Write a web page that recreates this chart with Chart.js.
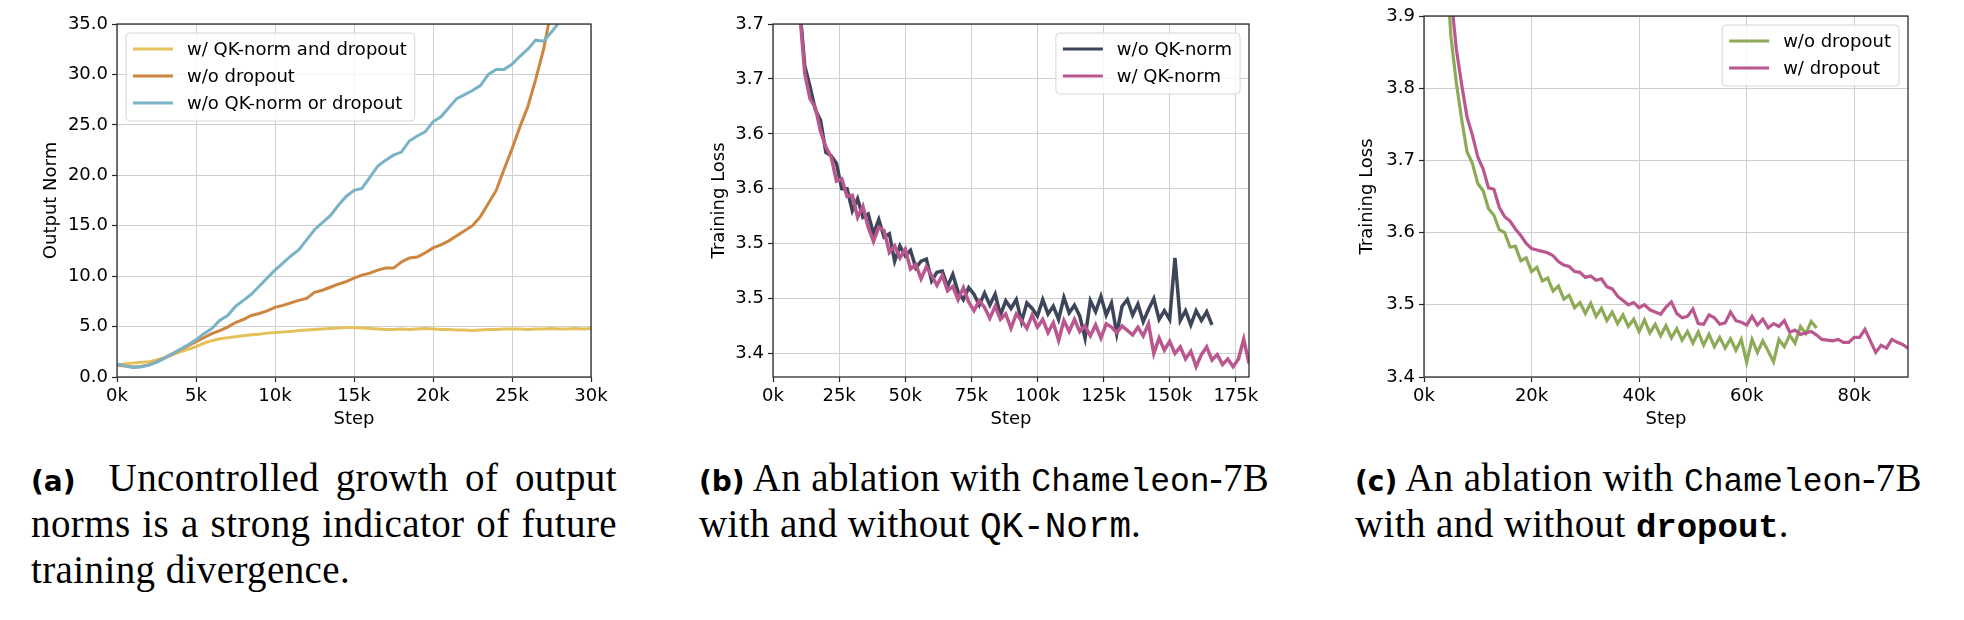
<!DOCTYPE html>
<html>
<head>
<meta charset="utf-8">
<script src="https://cdn.jsdelivr.net/npm/chart.js@4.4.0/dist/chart.umd.min.js"></script>
<style>
  body { margin: 0; width: 1964px; height: 620px; background: #fff; position: relative; overflow: hidden; }
  canvas { position: absolute; top: 0; }
  .cap { position: absolute; font-family: "Liberation Serif", serif; font-size: 39px; letter-spacing: 0.4px; line-height: 46px; color: #000; white-space: nowrap; }
  .j { text-align: justify; text-align-last: justify; }
  .lb { font-family: "DejaVu Sans", sans-serif; font-weight: bold; font-size: 28px; letter-spacing: 0; }
  .tt { font-family: "Liberation Mono", monospace; font-size: 33px; letter-spacing: 0; }
  .tt2 { font-family: "Liberation Mono", monospace; font-size: 36px; letter-spacing: 0; }
  .ttb { font-family: "Liberation Mono", monospace; font-size: 34px; font-weight: bold; letter-spacing: 0; }
</style>
</head>
<body>
<canvas id="chartA" width="620" height="440" style="left:0px"></canvas>
<canvas id="chartB" width="640" height="440" style="left:640px"></canvas>
<canvas id="chartC" width="650" height="440" style="left:1300px"></canvas>

<div class="cap j" style="left:31px;top:455px;width:586px"><span class="lb">(a)</span>&nbsp; Uncontrolled growth of output</div>
<div class="cap j" style="left:31px;top:501px;width:586px">norms is a strong indicator of future</div>
<div class="cap" style="left:31px;top:547px">training divergence.</div>

<div class="cap j" style="left:699px;top:455px;width:567px"><span class="lb">(b)</span> An ablation with <span class="tt">Chameleon</span>-7B</div>
<div class="cap" style="left:699px;top:501px">with and without <span class="tt2">QK-Norm</span>.</div>

<div class="cap j" style="left:1355px;top:455px;width:564px"><span class="lb">(c)</span> An ablation with <span class="tt">Chameleon</span>-7B</div>
<div class="cap" style="left:1355px;top:501px">with and without <span class="ttb">dropout</span>.</div>

<script>
// ---- (a) output norm, steps in thousands ----
const stepsA = [0,0.5,1,1.5,2,2.5,3,3.5,4,4.5,5,5.5,6,6.5,7,7.5,8,8.5,9,9.5,10,10.5,11,11.5,12,12.5,13,13.5,14,14.5,
  15,15.5,16,16.5,17,17.5,18,18.5,19,19.5,20,20.5,21,21.5,22,22.5,23,23.5,24,24.5,25,25.5,26,26.5,27,27.5,28,28.5,29,29.5,30];
const qkDropA = [1.2,1.3,1.4,1.45,1.5,1.7,1.9,2.2,2.5,2.75,3.0,3.35,3.6,3.8,3.9,4.0,4.1,4.2,4.25,4.35,4.4,4.45,4.5,4.6,4.65,
  4.7,4.75,4.8,4.85,4.9,4.9,4.85,4.8,4.75,4.7,4.7,4.75,4.7,4.75,4.8,4.75,4.7,4.7,4.65,4.65,4.6,4.65,4.7,4.7,4.75,4.75,4.75,
  4.7,4.75,4.75,4.8,4.75,4.75,4.8,4.75,4.8];
const noDropA = [1.2,1.1,1.0,1.05,1.2,1.5,1.9,2.3,2.7,3.1,3.5,3.9,4.3,4.6,4.95,5.4,5.7,6.1,6.3,6.55,6.9,7.1,7.35,7.6,7.8,
  8.4,8.6,8.9,9.2,9.45,9.8,10.1,10.3,10.6,10.8,10.8,11.4,11.8,11.9,12.3,12.8,13.1,13.5,14.0,14.5,15.0,15.9,17.2,18.5,20.6,
  22.6,24.8,26.8,29.5,32.5,36.5,41];
const noBothA = [1.3,1.1,0.95,1.0,1.15,1.45,1.85,2.3,2.75,3.2,3.7,4.3,4.8,5.6,6.1,7.0,7.6,8.2,9.0,9.8,10.6,11.3,12.0,12.6,
  13.6,14.6,15.3,16.0,17.0,17.9,18.5,18.7,19.8,20.9,21.5,22.0,22.3,23.4,23.9,24.3,25.3,25.8,26.7,27.6,28.0,28.4,28.9,30.0,
  30.5,30.5,31.0,31.8,32.5,33.4,33.3,34.2,35.2,36.0];
const xTicksA = [0,5,10,15,20,25,30];
const xLabelsA = ['0k','5k','10k','15k','20k','25k','30k'];
const yTicksA = [0,5,10,15,20,25,30,35];
const yLabelsA = ['0.0','5.0','10.0','15.0','20.0','25.0','30.0','35.0'];

// ---- (b) QK-norm ablation ----
const stepsB = [10,12,14,16,18,20,22,24,26,28,30,32,34,36,38,40,42,44,46,48,50,52,54,56,58,60,62,64,66,68,70,72,74,76,78,
  80,82,84,86,88,90,92,94,96,98,100,102,104,106,108,110,112,114,116,118,120,122,124,126,128,130,132,134,136,138,140,
  142,144,146,148,150,152,154,156,158,160,162,164,166,168,170,172,174,176,178,180];
const noQkB = [3.718,3.662,3.643,3.622,3.612,3.583,3.580,3.573,3.550,3.550,3.530,3.541,3.524,3.527,3.509,3.522,3.506,3.509,
  3.484,3.498,3.489,3.494,3.478,3.484,3.486,3.466,3.474,3.475,3.461,3.472,3.456,3.449,3.460,3.454,3.444,3.455,3.444,3.454,
  3.435,3.448,3.441,3.449,3.429,3.446,3.441,3.434,3.449,3.436,3.443,3.431,3.451,3.437,3.444,3.434,3.414,3.448,3.438,3.452,
  3.435,3.446,3.418,3.443,3.449,3.435,3.445,3.429,3.440,3.450,3.431,3.439,3.431,3.487,3.430,3.439,3.426,3.439,3.430,3.438,
  3.426];
const withQkB = [3.715,3.655,3.632,3.624,3.602,3.588,3.579,3.557,3.559,3.543,3.544,3.524,3.534,3.515,3.502,3.515,3.512,3.492,
  3.498,3.487,3.495,3.477,3.481,3.468,3.479,3.471,3.462,3.471,3.457,3.461,3.449,3.460,3.447,3.439,3.448,3.442,3.432,3.443,
  3.431,3.436,3.423,3.436,3.430,3.423,3.435,3.424,3.431,3.419,3.428,3.412,3.430,3.420,3.431,3.420,3.425,3.416,3.426,3.414,
  3.427,3.424,3.419,3.425,3.421,3.417,3.424,3.416,3.427,3.400,3.414,3.403,3.411,3.400,3.406,3.395,3.402,3.388,3.399,3.406,
  3.394,3.399,3.390,3.395,3.388,3.395,3.413,3.391];
const xTicksB = [0,25,50,75,100,125,150,175];
const xLabelsB = ['0k','25k','50k','75k','100k','125k','150k','175k'];
const yTicksB = [3.40,3.45,3.50,3.55,3.60,3.65,3.70];
const yLabelsB = ['3.4','3.5','3.5','3.6','3.6','3.7','3.7'];

// ---- (c) dropout ablation ----
const stepsC = [4,5,6,7,8,9,10,11,12,13,14,15,16,17,18,19,20,21,22,23,24,25,26,27,28,29,30,31,32,33,34,35,36,37,38,39,40,
  41,42,43,44,45,46,47,48,49,50,51,52,53,54,55,56,57,58,59,60,61,62,63,64,65,66,67,68,69,70,71,72,73,74,75,76,77,78,79,
  80,81,82,83,84,85,86,87,88,89,90];
const noDropC = [3.990,3.872,3.808,3.757,3.712,3.696,3.668,3.658,3.633,3.624,3.604,3.600,3.580,3.581,3.561,3.565,3.546,
  3.552,3.533,3.537,3.519,3.526,3.508,3.513,3.496,3.503,3.488,3.502,3.484,3.495,3.478,3.490,3.474,3.486,3.470,3.480,3.463,
  3.479,3.461,3.473,3.457,3.471,3.454,3.467,3.451,3.463,3.447,3.462,3.444,3.459,3.442,3.455,3.440,3.453,3.437,3.452,3.420,
  3.452,3.434,3.450,3.436,3.421,3.452,3.442,3.458,3.447,3.470,3.460,3.477,3.468];
const withDropC = [4.050,3.930,3.855,3.805,3.760,3.735,3.705,3.688,3.662,3.660,3.635,3.622,3.616,3.605,3.596,3.585,3.578,
  3.576,3.574,3.572,3.568,3.560,3.555,3.553,3.546,3.545,3.538,3.540,3.534,3.536,3.525,3.522,3.512,3.506,3.500,3.503,3.496,
  3.500,3.493,3.490,3.487,3.497,3.504,3.488,3.482,3.484,3.494,3.474,3.473,3.486,3.482,3.473,3.475,3.490,3.478,3.476,3.472,
  3.484,3.472,3.480,3.468,3.474,3.470,3.478,3.462,3.465,3.459,3.461,3.463,3.458,3.452,3.451,3.450,3.452,3.448,3.448,3.455,
  3.455,3.466,3.450,3.434,3.444,3.440,3.452,3.448,3.445,3.440];
const xTicksC = [0,20,40,60,80];
const xLabelsC = ['0k','20k','40k','60k','80k'];
const yTicksC = [3.4,3.5,3.6,3.7,3.8,3.9];
const yLabelsC = ['3.4','3.5','3.6','3.7','3.8','3.9'];

Chart.defaults.font.family = '"DejaVu Sans", sans-serif';
Chart.defaults.font.size = 18;
Chart.defaults.color = '#000';

function pts(steps, vals) {
  return vals.map((v, i) => ({ x: steps[i], y: v }));
}

// black box round the plot area, like matplotlib spines
const framePlugin = {
  id: 'frame',
  afterDatasetsDraw(chart) {
    const { ctx, chartArea: a } = chart;
    ctx.save();
    ctx.strokeStyle = '#262626';
    ctx.lineWidth = 1.25;
    ctx.strokeRect(a.left, a.top, a.right - a.left, a.bottom - a.top);
    ctx.restore();
  }
};

// legend drawn inside the axes
const boxLegend = {
  id: 'boxLegend',
  afterDraw(chart, args, opts) {
    const { ctx, chartArea: a } = chart;
    const sets = chart.data.datasets;
    ctx.save();
    ctx.font = '18px "DejaVu Sans"';
    const tw = Math.max(...sets.map(d => ctx.measureText(d.label).width));
    const w = 61 + tw + 8;
    const h = 7 + 27 * sets.length;
    const x = opts.corner === 'left' ? a.left + 9 : a.right - 9 - w;
    const y = a.top + 9;
    ctx.beginPath();
    ctx.roundRect(x, y, w, h, 4);
    ctx.fillStyle = 'rgba(255,255,255,0.8)';
    ctx.fill();
    ctx.strokeStyle = '#d6d6d6';
    ctx.lineWidth = 1;
    ctx.stroke();
    sets.forEach((d, i) => {
      const cy = y + 16 + 27 * i;
      ctx.strokeStyle = d.borderColor;
      ctx.lineWidth = 3;
      ctx.beginPath();
      ctx.moveTo(x + 7, cy);
      ctx.lineTo(x + 47, cy);
      ctx.stroke();
      ctx.fillStyle = '#000';
      ctx.textBaseline = 'middle';
      ctx.fillText(d.label, x + 61, cy + 1);
    });
    ctx.restore();
  }
};

function makeChart(id, o) {
  const n = o.sets.length;
  new Chart(document.getElementById(id), {
    type: 'line',
    data: { datasets: o.sets.map((s, i) => ({
      label: s.label, data: pts(s.steps, s.vals), borderColor: s.color,
      borderWidth: o.lw, pointRadius: 0, tension: 0, clip: 0, fill: false,
      order: n - i   // later series on top, as in matplotlib
    })) },
    options: {
      responsive: false, animation: false,
      layout: { padding: { left: 0, top: o.top, right: o.right, bottom: 0 } },
      plugins: { legend: { display: false }, tooltip: { enabled: false }, boxLegend: { corner: o.corner } },
      scales: {
        x: {
          type: 'linear', min: o.xMin, max: o.xMax,
          afterBuildTicks: s => { s.ticks = o.xTicks.map(v => ({ value: v })); },
          afterFit: s => { s.height = 440 - 377; },
          ticks: { callback: (v, i) => o.xLabels[i], padding: 4, maxRotation: 0, autoSkip: false },
          grid: { color: '#cfcfcf', lineWidth: 1, tickLength: 5, tickColor: '#262626', tickWidth: 1.2 },
          border: { display: false },
          title: { display: true, text: 'Step', padding: { top: 0, bottom: 10 } }
        },
        y: {
          type: 'linear', min: o.yMin, max: o.yMax,
          afterBuildTicks: s => { s.ticks = o.yTicks.map(v => ({ value: v })); },
          afterFit: s => { s.width = o.yWidth; },
          ticks: { callback: (v, i) => o.yLabels[i], padding: 4, autoSkip: false },
          grid: { color: '#cfcfcf', lineWidth: 1, tickLength: 5, tickColor: '#262626', tickWidth: 1.2 },
          border: { display: false },
          title: { display: true, text: o.yTitle, padding: { top: o.yTitlePad, bottom: 0 } }
        }
      }
    },
    plugins: [framePlugin, boxLegend]
  });
}

makeChart('chartA', {
  sets: [
    { label: 'w/ QK-norm and dropout', steps: stepsA, vals: qkDropA, color: '#e5c15c' },
    { label: 'w/o dropout', steps: stepsA, vals: noDropA, color: '#cd8540' },
    { label: 'w/o QK-norm or dropout', steps: stepsA, vals: noBothA, color: '#7ab2c8' }
  ],
  corner: 'left', top: 24, right: 29, yWidth: 117, lw: 3,
  xMin: 0, xMax: 30, xTicks: xTicksA, xLabels: xLabelsA,
  yMin: 0, yMax: 35, yTicks: yTicksA, yLabels: yLabelsA,
  yTitle: 'Output Norm', yTitlePad: 41
});

makeChart('chartB', {
  sets: [
    { label: 'w/o QK-norm', steps: stepsB, vals: noQkB, color: '#3d4559' },
    { label: 'w/ QK-norm', steps: stepsB, vals: withQkB, color: '#b9578e' }
  ],
  corner: 'right', top: 24, right: 31, yWidth: 133, lw: 3.5,
  xMin: 0, xMax: 180, xTicks: xTicksB, xLabels: xLabelsB,
  yMin: 3.3786, yMax: 3.70, yTicks: yTicksB, yLabels: yLabelsB,
  yTitle: 'Training Loss', yTitlePad: 69
});

makeChart('chartC', {
  sets: [
    { label: 'w/o dropout', steps: stepsC, vals: noDropC, color: '#8daa56' },
    { label: 'w/ dropout', steps: stepsC, vals: withDropC, color: '#b9578e' }
  ],
  corner: 'right', top: 16, right: 42, yWidth: 124, lw: 3.2,
  xMin: 0, xMax: 90, xTicks: xTicksC, xLabels: xLabelsC,
  yMin: 3.4, yMax: 3.9, yTicks: yTicksC, yLabels: yLabelsC,
  yTitle: 'Training Loss', yTitlePad: 57
});
</script>
</body>
</html>
